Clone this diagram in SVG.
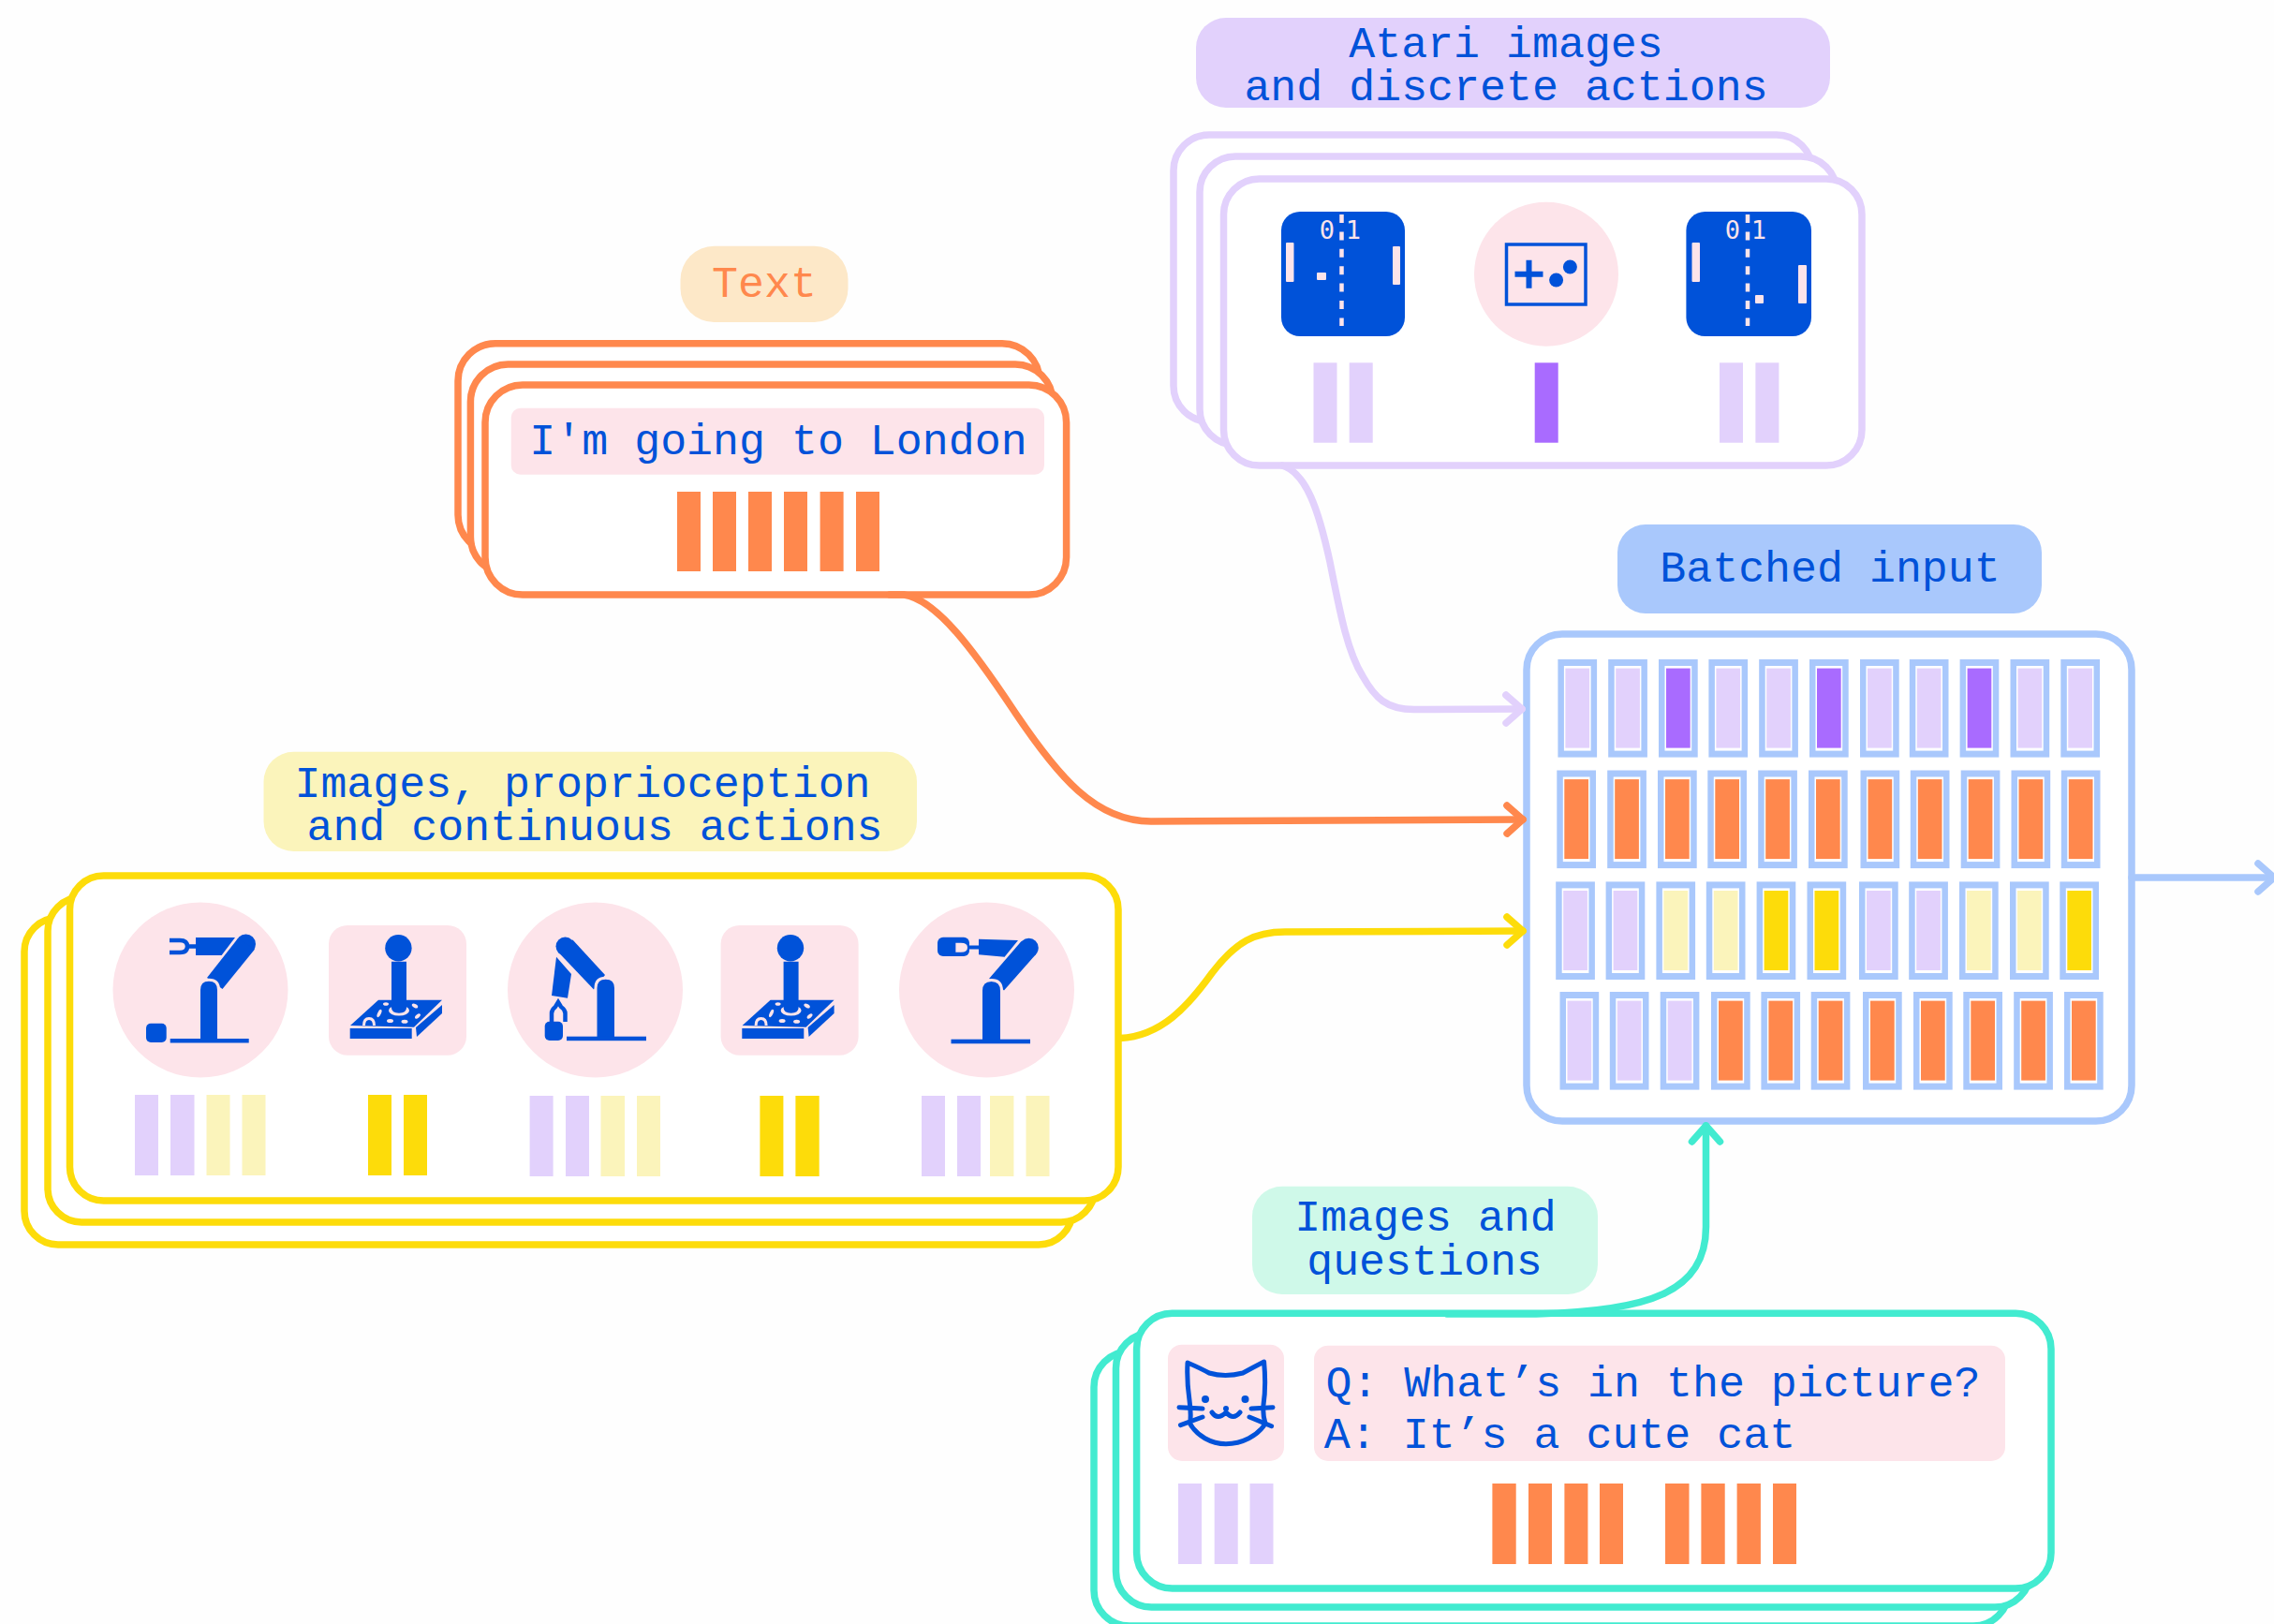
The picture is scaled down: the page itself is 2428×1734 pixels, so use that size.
<svg xmlns="http://www.w3.org/2000/svg" width="2428" height="1734" viewBox="0 0 2428 1734">
<style>
text{font-family:"Liberation Mono","DejaVu Sans Mono",monospace;font-size:46.6px;fill:#0052D9;text-anchor:middle}
.card{fill:#fff;stroke-width:7.5}
.cO{stroke:#FF884D}.cY{stroke:#FDDC0A}.cL{stroke:#E2D1FC}.cT{stroke:#42EBD0}.cB{stroke:#A9C8FC}
.lav{fill:#E2D1FC}.pur{fill:#A96BFF}.org{fill:#FF884D}.yel{fill:#FDDC0A}.lye{fill:#FBF4BB}.pink{fill:#FDE4EA}.navy{fill:#0052D9}
.conn{fill:none;stroke-width:7.5;stroke-linecap:round;stroke-linejoin:round}
.head{fill:none;stroke-width:7.5;stroke-linecap:round;stroke-linejoin:round}
.bo{stroke:#0052D9;fill:none}
.col{fill:#0052D9;stroke:#FDE4EA;stroke-width:3}
.dots{stroke:#FDE4EA;stroke-width:4.5;stroke-dasharray:9 9.4;fill:none}
.score{font-family:"DejaVu Sans Mono","Liberation Mono",monospace;font-size:27px;fill:#FDE4EA}
</style>
<defs>
<marker id="aL" markerUnits="userSpaceOnUse" markerWidth="40" markerHeight="40" refX="30" refY="20" orient="auto" overflow="visible"><path class="head cL" d="M13 5L30 20L13 35"/></marker>
<marker id="aO" markerUnits="userSpaceOnUse" markerWidth="40" markerHeight="40" refX="30" refY="20" orient="auto" overflow="visible"><path class="head cO" d="M13 5L30 20L13 35"/></marker>
<marker id="aY" markerUnits="userSpaceOnUse" markerWidth="40" markerHeight="40" refX="30" refY="20" orient="auto" overflow="visible"><path class="head cY" d="M13 5L30 20L13 35"/></marker>
<marker id="aT" markerUnits="userSpaceOnUse" markerWidth="40" markerHeight="40" refX="30" refY="20" orient="auto" overflow="visible"><path class="head cT" d="M13 5L30 20L13 35"/></marker>
<marker id="aB" markerUnits="userSpaceOnUse" markerWidth="40" markerHeight="40" refX="30" refY="20" orient="auto" overflow="visible"><path class="head cB" d="M13 5L30 20L13 35"/></marker>
<rect id="cf" width="41.7" height="104.6" fill="#A9C8FC"/>
<g id="cl"><use href="#cf"/><rect x="6.5" y="7" width="28.7" height="90.6" fill="#fff"/><rect class="lav" x="8" y="9.6" width="25.7" height="85"/></g>
<g id="cp"><use href="#cf"/><rect x="6.5" y="7" width="28.7" height="90.6" fill="#fff"/><rect class="pur" x="8" y="9.6" width="25.7" height="85"/></g>
<g id="co"><use href="#cf"/><rect x="6.5" y="7" width="28.7" height="90.6" fill="#fff"/><rect class="org" x="8" y="9.6" width="25.7" height="85"/></g>
<g id="cy"><use href="#cf"/><rect x="6.5" y="7" width="28.7" height="90.6" fill="#fff"/><rect class="yel" x="8" y="9.6" width="25.7" height="85"/></g>
<g id="cz"><use href="#cf"/><rect x="6.5" y="7" width="28.7" height="90.6" fill="#fff"/><rect class="lye" x="8" y="9.6" width="25.7" height="85"/></g>
<g id="joy">
<rect class="pink" x="351" y="988" width="147" height="138.7" rx="20"/>
<circle class="navy" cx="425.4" cy="1012.3" r="14.2"/>
<path class="navy" d="M404 1067.7H472L442 1096.7L374 1095Z"/>
<rect class="navy" x="373.7" y="1098" width="66" height="11"/>
<path class="navy" d="M444 1097L472 1073V1082L445 1107Z"/>
<g class="pink"><ellipse cx="443" cy="1074" rx="3.5" ry="2" transform="rotate(30 443 1074)"/><ellipse cx="405" cy="1082" rx="1.8" ry="4.5" transform="rotate(25 405 1082)"/><ellipse cx="446" cy="1085" rx="1.8" ry="3.5" transform="rotate(50 446 1085)"/><ellipse cx="416.5" cy="1090" rx="3.5" ry="2"/><ellipse cx="432" cy="1090.7" rx="3.5" ry="2"/><path d="M387 1095Q387 1086 394 1086Q401 1086 401 1095H398Q398 1089 394 1089Q390 1089 390 1095Z"/><ellipse cx="412" cy="1072" rx="3" ry="1.8"/><ellipse cx="426" cy="1079" rx="11" ry="5.5"/></g>
<path class="navy" d="M418 1026.7H434V1076Q434 1081.7 426 1081.7Q418 1081.7 418 1076Z"/>
</g>
</defs>
<rect width="2428" height="1734" fill="#FEFEFE"/>

<g id="atari">
<rect x="1277" y="19" width="677" height="96" rx="32" class="lav"/>
<text x="1608" y="61"><tspan x="1608" y="61">Atari images</tspan><tspan x="1608" y="107">and discrete actions</tspan></text>
<rect class="card cL" x="1253" y="144" width="682" height="306" rx="38"/>
<rect class="card cL" x="1281" y="167" width="680" height="308" rx="38"/>
<rect class="card cL" x="1306.5" y="191" width="681.5" height="306" rx="38"/>
<g id="pong1">
<rect class="navy" x="1368" y="226" width="132" height="133" rx="20"/>
<rect class="pink" x="1373" y="259" width="8.5" height="42" rx="1"/><rect class="pink" x="1487" y="263" width="8" height="41" rx="1"/><rect class="pink" x="1406" y="291" width="10" height="8" rx="1"/>
<path class="dots" d="M1432.5 229V348"/>
<text class="score" x="1417" y="255">0</text><text class="score" x="1445" y="255">1</text>
</g>
<g id="pad">
<circle class="pink" cx="1651" cy="292.7" r="77"/>
<rect class="bo" x="1608.5" y="261" width="84.5" height="64" stroke-width="3.5"/>
<path class="navy" d="M1629.5 277.7h6v12h12v6h-12v12h-6v-12h-12v-6h12z"/>
<circle class="navy" cx="1676.4" cy="285" r="7.5"/><circle class="navy" cx="1661.6" cy="299" r="7.5"/>
</g>
<g id="pong2">
<rect class="navy" x="1800.4" y="226" width="133.6" height="133" rx="20"/>
<rect class="pink" x="1806.5" y="259" width="8.5" height="42" rx="1"/><rect class="pink" x="1920" y="283" width="9" height="41" rx="1"/><rect class="pink" x="1874" y="315" width="9" height="9" rx="1"/>
<path class="dots" d="M1866 229V348"/>
<text class="score" x="1850" y="255">0</text><text class="score" x="1878" y="255">1</text>
</g>
<g class="lav"><rect x="1402.5" y="387.3" width="25" height="85.4"/><rect x="1440.7" y="387.3" width="25" height="85.4"/><rect x="1836" y="387.3" width="25" height="85.4"/><rect x="1874.4" y="387.3" width="25" height="85.4"/></g>
<rect class="pur" x="1638.7" y="387.3" width="25" height="85.4"/>
</g>

<g id="text-input">
<rect x="726.5" y="262.7" width="179" height="81.3" rx="36" fill="#FDE8C8"/>
<text x="816" y="317" style="fill:#FF884D">Text</text>
<rect class="card cO" x="489" y="366.7" width="621" height="223" rx="40"/>
<rect class="card cO" x="502.4" y="389" width="621.6" height="224" rx="40"/>
<rect class="card cO" x="518" y="411" width="620.6" height="224" rx="40"/>
<rect class="pink" x="545.7" y="435.7" width="569.3" height="71" rx="10"/>
<text x="831" y="485">I'm going to London</text>
<g class="org"><rect x="723" y="525" width="25" height="85"/><rect x="761" y="525" width="25" height="85"/><rect x="799" y="525" width="25" height="85"/><rect x="837" y="525" width="25" height="85"/><rect x="875.6" y="525" width="25" height="85"/><rect x="914" y="525" width="25" height="85"/></g>
</g>

<g id="robotics">
<rect x="281.5" y="802.7" width="697.5" height="106.3" rx="32" class="lye"/>
<text x="622" y="850.7"><tspan x="622" y="850.7">Images, proprioception</tspan><tspan x="635" y="896.7">and continuous actions</tspan></text>
<rect class="card cY" x="26" y="980" width="1119" height="349" rx="36"/>
<rect class="card cY" x="51" y="958" width="1118" height="347" rx="36"/>
<rect class="card cY" x="74.5" y="935" width="1119.5" height="347" rx="36"/>
<g id="robot1">
<circle class="pink" cx="214" cy="1057" r="93.5"/>
<path class="navy" d="M209 1001H251L236.6 1020H209Z"/>
<path class="bo" stroke-width="4.5" d="M181 1004H192Q200 1004 200 1010.5Q200 1017 192 1017H181M200 1010.5H210"/>
<circle class="navy" cx="262.500" cy="1008" r="10.500"/>
<path class="navy" d="M254 1002L272 1013.500L237.500 1056L221 1044Z"/>
<path class="col" d="M212.500 1111V1057Q212.500 1046.200 223 1046.200Q233.500 1046.200 233.500 1057V1111Z"/>
<rect class="navy" x="181.7" y="1109" width="84" height="4.5"/>
<rect class="navy" x="156" y="1092.7" width="21.7" height="20.3" rx="5"/>
</g>
<use href="#joy"/>
<g id="robot2">
<circle class="pink" cx="635.5" cy="1057" r="93.5"/>
<path class="navy" d="M594 1021.7L610 1040L606 1065.7L589 1063Z"/>
<path class="bo" stroke-width="4.5" d="M589 1091V1082Q589 1078 593 1075L596 1070L599 1075Q603.5 1078 603.5 1082V1091"/>
<circle class="navy" cx="603.500" cy="1010.500" r="10"/>
<path class="navy" d="M595.500 1016L611.500 1003.500L646 1041L634 1056.500Z"/>
<path class="col" d="M636 1109V1055Q636 1044.200 646.700 1044.200Q657.500 1044.200 657.500 1055V1109Z"/>
<rect class="navy" x="605" y="1106.7" width="85" height="4.5"/>
<rect class="navy" x="581.7" y="1090.7" width="19.3" height="20.3" rx="5"/>
</g>
<use href="#joy" transform="translate(418.6 0)"/>
<g id="robot3">
<circle class="pink" cx="1053.5" cy="1057" r="93.5"/>
<path class="navy" d="M1045 1002.7L1087 1004L1072.6 1021.7L1045 1019.3Z"/>
<rect class="navy" x="1001" y="1000.7" width="34" height="20.3" rx="6"/>
<rect class="navy" x="1033" y="1009.5" width="13" height="4"/>
<path class="pink" d="M1020.4 1006.7H1026Q1033 1006.7 1033 1011.7Q1033 1016.7 1026 1016.7H1020.4Z"/>
<circle class="navy" cx="1098.500" cy="1012" r="10.300"/>
<path class="navy" d="M1090.500 1005L1106 1019L1072 1057.500L1056 1045Z"/>
<path class="col" d="M1047.500 1112V1058Q1047.500 1046.500 1058.500 1046.500Q1069.500 1046.500 1069.500 1058V1112Z"/>
<rect class="navy" x="1015.5" y="1109.7" width="84.5" height="4.6"/>
</g>
<g class="lav"><rect x="144" y="1169" width="25" height="86"/><rect x="182" y="1169" width="25.5" height="86"/><rect x="565.6" y="1170" width="25" height="86"/><rect x="604" y="1170" width="25" height="86"/><rect x="984" y="1170" width="25" height="86"/><rect x="1022" y="1170" width="25" height="86"/></g>
<g class="lye"><rect x="220.5" y="1169" width="25" height="86"/><rect x="258.5" y="1169" width="25" height="86"/><rect x="641.5" y="1170" width="25.5" height="86"/><rect x="680" y="1170" width="25" height="86"/><rect x="1057" y="1170" width="25.4" height="86"/><rect x="1095.5" y="1170" width="25" height="86"/></g>
<g class="yel"><rect x="393" y="1169" width="25" height="86"/><rect x="431" y="1169" width="25" height="86"/><rect x="811.4" y="1170" width="25" height="86"/><rect x="849.4" y="1170" width="25.3" height="86"/></g>
</g>

<g id="vqa">
<rect x="1337" y="1266.7" width="369" height="115.3" rx="32" fill="#CFF9E9"/>
<text x="1522" y="1314"><tspan x="1522" y="1314">Images and</tspan><tspan x="1521" y="1361">questions</tspan></text>
<rect class="card cT" x="1168" y="1443" width="977" height="293" rx="38"/>
<rect class="card cT" x="1191.5" y="1423" width="976.5" height="293" rx="38"/>
<rect class="card cT" x="1213.6" y="1402.3" width="976.4" height="293.7" rx="38"/>
<rect class="pink" x="1247" y="1435.7" width="124" height="124.3" rx="15"/>
<rect class="pink" x="1403" y="1436.7" width="738" height="123.3" rx="15"/>
<g id="cat" class="bo" stroke-width="5" stroke-linecap="round" stroke-linejoin="round">
<path d="M1268 1455Q1282 1461 1291 1466Q1308 1471 1327 1466Q1338 1460 1349.6 1454Q1352 1480 1349 1500Q1348 1510 1351 1520C1343 1533 1326 1541.7 1309 1541.7C1293 1541.7 1278 1533 1270.6 1520Q1272 1510 1270 1495Q1267 1475 1268 1455Z"/>
<path d="M1259 1502.7L1284 1504M1260.5 1521.7L1284 1513M1336 1504L1359 1502.7M1334 1513L1357.6 1522.7M1294 1508Q1300 1517 1309 1508Q1317 1517 1324 1508"/>
<circle class="navy" cx="1287" cy="1494" r="4" stroke="none"/><circle class="navy" cx="1329.5" cy="1494" r="4" stroke="none"/><circle class="navy" cx="1309" cy="1504" r="3" stroke="none"/>
</g>
<text x="1765" y="1490.7"><tspan x="1765" y="1490.7">Q: What’s in the picture?</tspan><tspan x="1665.5" y="1545.7">A: It’s a cute cat</tspan></text>
<g class="lav"><rect x="1258" y="1584" width="25" height="86"/><rect x="1296.7" y="1584" width="25" height="86"/><rect x="1334.5" y="1584" width="25" height="86"/></g>
<g class="org"><rect x="1593.4" y="1584" width="25.3" height="86"/><rect x="1632" y="1584" width="25" height="86"/><rect x="1670.4" y="1584" width="25" height="86"/><rect x="1708" y="1584" width="25" height="86"/><rect x="1778" y="1584" width="25.5" height="86"/><rect x="1816.4" y="1584" width="25.3" height="86"/><rect x="1854.6" y="1584" width="25.3" height="86"/><rect x="1893" y="1584" width="25" height="86"/></g>
</g>

<g id="batch">
<rect x="1727" y="560" width="453" height="95" rx="30" fill="#A9C8FC"/>
<text x="1954" y="621">Batched input</text>
<rect class="card cB" x="1630" y="677" width="646" height="520" rx="38"/>
<use href="#cl" x="1663.4" y="704"/><use href="#cl" x="1717.2" y="704"/><use href="#cp" x="1771" y="704"/><use href="#cl" x="1824.4" y="704"/><use href="#cl" x="1878.2" y="704"/><use href="#cp" x="1932" y="704"/><use href="#cl" x="1986" y="704"/><use href="#cl" x="2038.8" y="704"/><use href="#cp" x="2092.6" y="704"/><use href="#cl" x="2146.5" y="704"/><use href="#cl" x="2200.3" y="704"/>
<use href="#co" x="1662.3" y="822.5"/><use href="#co" x="1716.2" y="822.5"/><use href="#co" x="1770" y="822.5"/><use href="#co" x="1823.3" y="822.5"/><use href="#co" x="1877.2" y="822.5"/><use href="#co" x="1931" y="822.5"/><use href="#co" x="1986.5" y="822.5"/><use href="#co" x="2039.8" y="822.5"/><use href="#co" x="2093.7" y="822.5"/><use href="#co" x="2147.5" y="822.5"/><use href="#co" x="2200.8" y="822.5"/>
<use href="#cl" x="1661.2" y="941.4"/><use href="#cl" x="1714.6" y="941.4"/><use href="#cz" x="1768.4" y="941.4"/><use href="#cz" x="1821.8" y="941.4"/><use href="#cy" x="1875.6" y="941.4"/><use href="#cy" x="1929.5" y="941.4"/><use href="#cl" x="1985" y="941.4"/><use href="#cl" x="2038.2" y="941.4"/><use href="#cz" x="2092" y="941.4"/><use href="#cz" x="2146" y="941.4"/><use href="#cy" x="2199.3" y="941.4"/>
<use href="#cl" x="1665.5" y="1059"/><use href="#cl" x="1718.8" y="1059"/><use href="#cl" x="1772.7" y="1059"/><use href="#co" x="1827" y="1059"/><use href="#co" x="1880.4" y="1059"/><use href="#co" x="1933.7" y="1059"/><use href="#co" x="1989" y="1059"/><use href="#co" x="2043" y="1059"/><use href="#co" x="2096.3" y="1059"/><use href="#co" x="2150.2" y="1059"/><use href="#co" x="2204" y="1059"/>
</g>

<g id="connectors">
<path class="conn cL" marker-end="url(#aL)" d="M1369 497C1395 505 1408 545 1420 600C1430 650 1438 695 1455 722C1468 745 1480 757.5 1510 757.5L1625 757"/>
<path class="conn cO" marker-end="url(#aO)" d="M950 635H965C1000 640 1040 695 1082 758C1130 830 1170 877 1229 877L1626 875"/>
<path class="conn cY" marker-end="url(#aY)" d="M1196 1108.6C1240 1106 1268 1075 1294 1039C1320 1005 1340 995 1372 995L1626 994"/>
<path class="conn cT" marker-end="url(#aT)" d="M1545 1403H1640C1760 1400 1821.5 1380 1821.5 1310V1202"/>
<path class="conn cB" marker-end="url(#aB)" d="M2276 937H2428"/>
</g>
</svg>
